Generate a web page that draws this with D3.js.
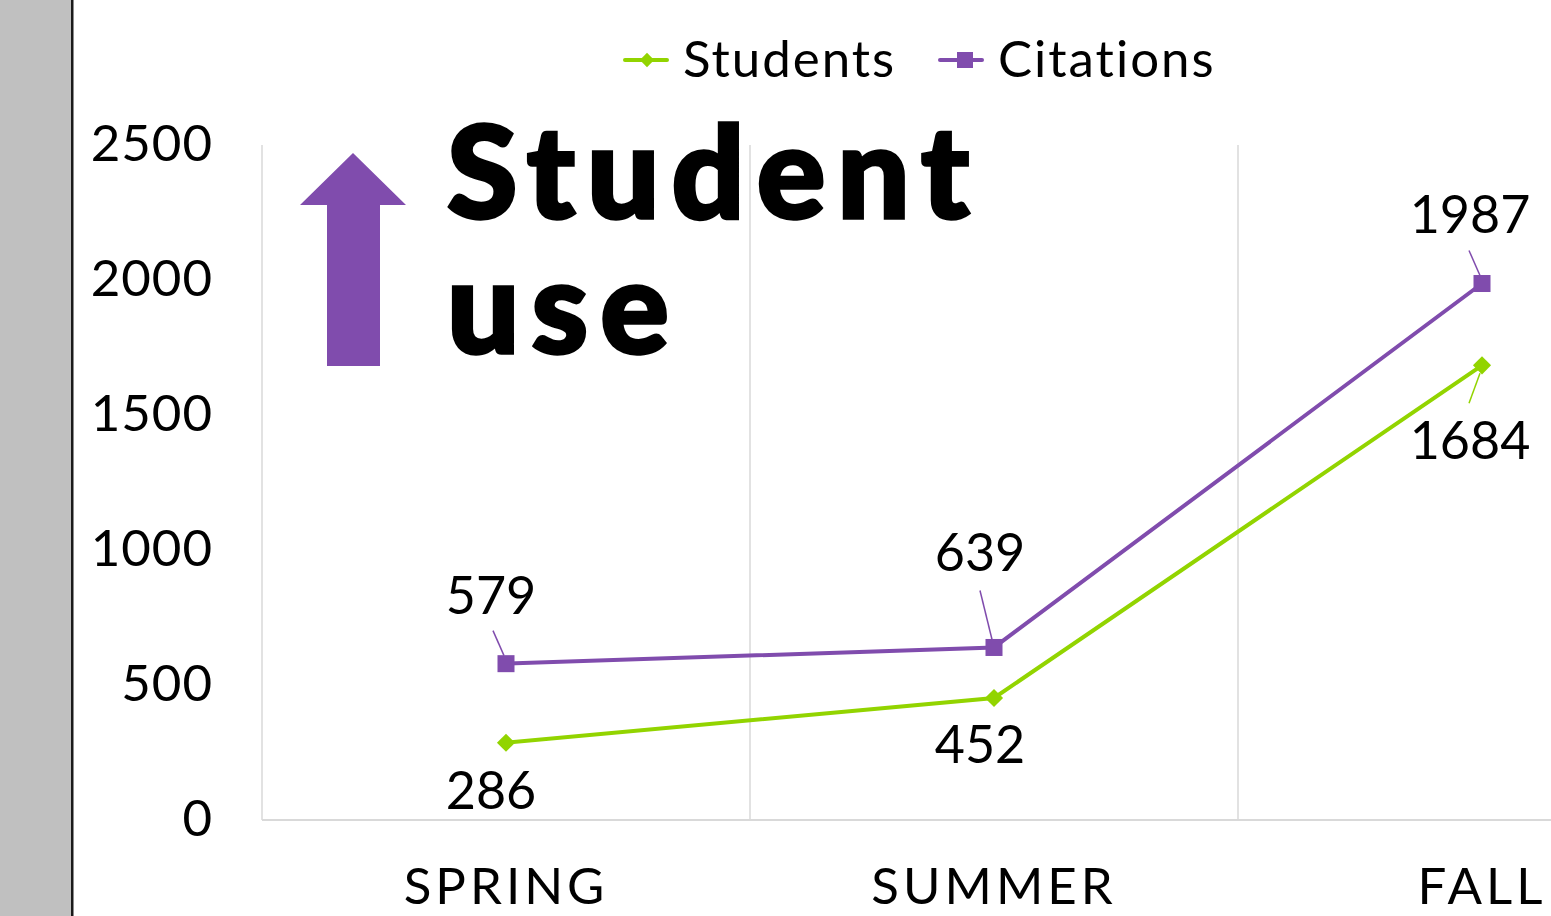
<!DOCTYPE html>
<html><head><meta charset="utf-8">
<script src="https://cdn.jsdelivr.net/npm/d3@7"></script>
<style>html,body{margin:0;padding:0;background:#fff;overflow:hidden}</style>
</head><body>
<svg id="c" width="1551" height="916"></svg>
<script>
const categories = ["SPRING", "SUMMER", "FALL"];
const students = [286, 452, 1684];
const citations = [579, 639, 1987];
const yTicks = [0, 500, 1000, 1500, 2000, 2500];
const seriesNames = ["Students", "Citations"];
const titleLines = ["Student", "use"];

(function(){
const green = "#92D400", purple = "#804CAD";
const font = "Lato, 'Noto Sans', sans-serif";
const svg = d3.select("#c");

svg.append("rect").attr("x",0).attr("y",0).attr("width",71).attr("height",916).attr("fill","#c0c0c0");
svg.append("rect").attr("x",71).attr("y",0).attr("width",2.5).attr("height",916).attr("fill","#1a1a1a");

const pLeft = 262, pBottom = 820, pTop = 145, band = 488;
const x = d3.scaleBand().domain(categories).range([pLeft, pLeft + band*categories.length]);
const y = d3.scaleLinear().domain([0, 2500]).range([pBottom, pTop]);
const cx = c => x(c) + x.bandwidth()/2;

const g = svg.append("g");
categories.slice(1).forEach(c => {
  g.append("line").attr("x1", x(c)).attr("x2", x(c)).attr("y1", pTop).attr("y2", pBottom)
    .attr("stroke", "#d9d9d9").attr("stroke-width", 1.5);
});
g.append("line").attr("x1", pLeft).attr("x2", pLeft).attr("y1", pTop).attr("y2", pBottom)
  .attr("stroke", "#d9d9d9").attr("stroke-width", 1.5);
g.append("line").attr("x1", pLeft).attr("x2", 1551).attr("y1", pBottom).attr("y2", pBottom)
  .attr("stroke", "#d9d9d9").attr("stroke-width", 2);

const yAxis = d3.axisLeft(y).tickValues(yTicks).tickSize(0).tickPadding(0).tickFormat(d3.format("d"));
const ya = svg.append("g").attr("transform", `translate(213,0)`).call(yAxis);
ya.select(".domain").remove();
ya.selectAll("text").attr("font-family", font).attr("font-size", 51).attr("fill", "#000")
  .attr("letter-spacing", "1px").attr("dy", "0.3em");

const xAxis = d3.axisBottom(x).tickSize(0).tickPadding(0);
const xa = svg.append("g").attr("transform", `translate(0,${pBottom})`).call(xAxis);
xa.select(".domain").remove();
xa.selectAll("text").attr("font-family", font).attr("font-size", 51).attr("fill", "#000")
  .attr("letter-spacing", "4px").attr("y", 84).attr("dy", 0);

const line = d3.line().x((d,i) => cx(categories[i])).y(d => y(d));
svg.append("path").datum(citations).attr("d", line).attr("fill","none").attr("stroke", purple).attr("stroke-width", 4);
svg.append("path").datum(students).attr("d", line).attr("fill","none").attr("stroke", green).attr("stroke-width", 4);

svg.selectAll(".sq").data(citations).enter().append("rect")
  .attr("x", (d,i) => cx(categories[i]) - 8.5).attr("y", d => y(d) - 8.5)
  .attr("width", 17).attr("height", 17).attr("fill", purple);
svg.selectAll(".dm").data(students).enter().append("path")
  .attr("d", d3.symbol().type(d3.symbolDiamond2).size(210))
  .attr("transform", (d,i) => `translate(${cx(categories[i])},${y(d)})`).attr("fill", green);

const labelFont = 52;
const citOff = [{dx:-15, dy:-50, lx1:-13, ly1:-33, lx2:-2, ly2:-8},
                {dx:-14, dy:-76, lx1:-14, ly1:-57, lx2:-2, ly2:-8},
                {dx:-12, dy:-51, lx1:-13, ly1:-33, lx2:-2, ly2:-8}];
const stuOff = [{dx:-15, dy:66}, {dx:-14, dy:65}, {dx:-12, dy:94, lx1:-13, ly1:38, lx2:-2, ly2:8}];
citations.forEach((v,i) => {
  const px = cx(categories[i]), py = y(v), o = citOff[i];
  svg.append("line").attr("x1", px+o.lx1).attr("y1", py+o.ly1).attr("x2", px+o.lx2).attr("y2", py+o.ly2)
    .attr("stroke", purple).attr("stroke-width", 1.5);
  svg.append("text").attr("x", px+o.dx).attr("y", py+o.dy).attr("text-anchor","middle")
    .attr("font-family", font).attr("font-size", labelFont).text(v);
});
students.forEach((v,i) => {
  const px = cx(categories[i]), py = y(v), o = stuOff[i];
  if (o.lx1 !== undefined) svg.append("line").attr("x1", px+o.lx1).attr("y1", py+o.ly1).attr("x2", px+o.lx2).attr("y2", py+o.ly2)
    .attr("stroke", green).attr("stroke-width", 1.5);
  svg.append("text").attr("x", px+o.dx).attr("y", py+o.dy).attr("text-anchor","middle")
    .attr("font-family", font).attr("font-size", labelFont).text(v);
});

const leg = [{name: seriesNames[0], color: green, x: 625, type: "d"}, {name: seriesNames[1], color: purple, x: 940, type: "s"}];
leg.forEach(l => {
  svg.append("line").attr("x1", l.x).attr("x2", l.x+42).attr("y1", 60).attr("y2", 60)
    .attr("stroke", l.color).attr("stroke-width", 4).attr("stroke-linecap","round");
  if (l.type === "d") svg.append("path").attr("d", d3.symbol().type(d3.symbolDiamond2).size(130))
      .attr("transform", `translate(${l.x+22},60)`).attr("fill", l.color);
  else svg.append("rect").attr("x", l.x+17).attr("y", 52).attr("width", 16).attr("height", 16).attr("fill", l.color);
  svg.append("text").attr("x", l.x+58).attr("y", 77).attr("font-family", font).attr("font-size", 51)
    .attr("letter-spacing", "2px").text(l.name);
});

svg.append("path").attr("d", "M327,366 L327,205 L300,205 L353,153 L406,205 L380,205 L380,366 Z").attr("fill", purple);

const title = svg.append("text").attr("font-family", font).attr("font-weight", 900)
  .attr("font-size", 128).attr("letter-spacing", "12px").attr("stroke", "#000").attr("stroke-width", 3.5)
  .attr("fill","#000");
titleLines.forEach((t,i) => {
  title.append("tspan").attr("x", 447).attr("y", 218 + i*135).text(t);
});
})();
</script>
</body></html>
